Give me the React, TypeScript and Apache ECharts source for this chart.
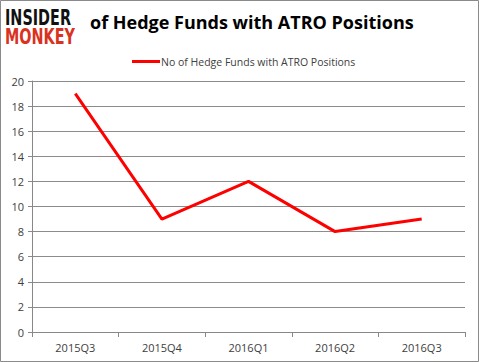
import React, { useEffect, useRef } from "react";
import * as echarts from "echarts";

const categories = ["2015Q3", "2015Q4", "2016Q1", "2016Q2", "2016Q3"];
const hedgeFunds = [19, 9, 12, 8, 9];
const seriesName = "No of Hedge Funds with ATRO Positions";
const titleText = "of Hedge Funds with ATRO Positions";

export default function App() {
  const ref = useRef<HTMLDivElement>(null);
  useEffect(() => {
    if (!ref.current) return;
    const chart = echarts.init(ref.current, null, { renderer: "svg" });
    chart.setOption({
      animation: false,
      backgroundColor: "#ffffff",
      grid: { left: 32, right: 14, top: 81, bottom: 30 },
      legend: {
        data: [seriesName],
        top: 51,
        left: 127,
        itemWidth: 28,
        itemHeight: 3,
        itemGap: 2,
        icon: "rect",
        textStyle: { fontSize: 10.5, color: "#404040", fontFamily: "Open Sans", padding: [0, 0, 0, -4] },
      },
      xAxis: {
        type: "category",
        data: categories,
        boundaryGap: true,
        axisLine: { lineStyle: { color: "#888888" } },
        axisTick: { show: true, alignWithLabel: false, length: 5, lineStyle: { color: "#888888" } },
        axisLabel: { fontSize: 11, color: "#404040", fontFamily: "Open Sans", margin: 10 },
        splitLine: { show: false },
      },
      yAxis: {
        type: "value",
        min: 0,
        max: 20,
        interval: 2,
        axisLine: { show: true, lineStyle: { color: "#888888" } },
        axisTick: { show: true, length: 4, lineStyle: { color: "#888888" } },
        axisLabel: { fontSize: 11, color: "#404040", fontFamily: "Open Sans", margin: 8 },
        splitLine: { lineStyle: { color: "#8c8c8c", width: 1 } },
      },
      series: [
        {
          name: seriesName,
          type: "line",
          data: hedgeFunds,
          symbol: "none",
          lineStyle: { color: "#ff0000", width: 3 },
          itemStyle: { color: "#ff0000" },
        },
      ],
      graphic: [
        {
          type: "rect",
          shape: { x: 0.5, y: 0.5, width: 478, height: 361 },
          style: { fill: "none", stroke: "#8a8a8a", lineWidth: 1 },
          silent: true,
        },
        {
          type: "text",
          x: 5,
          y: 7,
          scaleY: 1.3,
          style: {
            text: "INSIDER",
            fill: "#111111",
            font: "bold 16px 'DejaVu Sans Condensed'",
            textVerticalAlign: "top",
          },
        },
        {
          type: "text",
          x: 5,
          y: 26,
          scaleY: 1.3,
          style: {
            text: "MONKEY",
            fill: "#d9321f",
            font: "bold 16px 'DejaVu Sans Condensed'",
            textVerticalAlign: "top",
          },
        },
        {
          type: "text",
          x: 90,
          y: 13,
          style: {
            text: titleText,
            fill: "#000000",
            font: "bold 18px 'Open Sans'",
            textVerticalAlign: "top",
          },
        },
      ],
    });
    return () => chart.dispose();
  }, []);
  return (
    <div
      ref={ref}
      style={{ position: "absolute", left: 0, top: 0, width: 479, height: 362 }}
    />
  );
}
